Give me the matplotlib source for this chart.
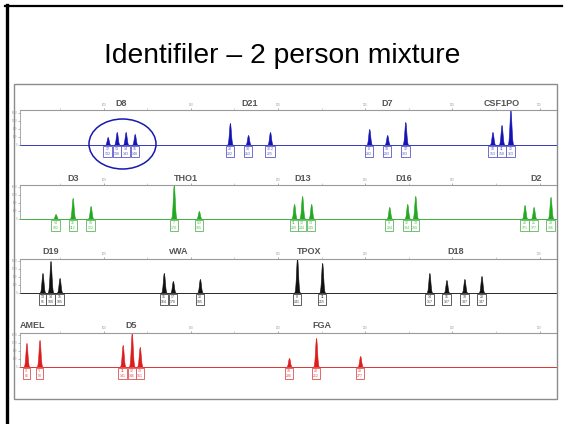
import numpy as np
import matplotlib
matplotlib.use("Agg")
import matplotlib.pyplot as plt
from matplotlib.patches import Ellipse, Rectangle
from matplotlib.lines import Line2D

plt.rcParams['font.family'] = ['Liberation Sans', 'DejaVu Sans']

W, H = 565, 424

# cada linha do eletroferograma: (marcador, alelos, posições em pb, alturas em RFU)
blue_markers = ["D8", "D21", "D7", "CSF1PO"]
blue_alleles = [["12", "13", "14", "15"], ["28", "30", "32.2"], ["8", "10", "12"], ["10", "11", "12"]]
blue_pos = [[102.3, 107.5, 112.6, 117.8], [172.4, 182.8, 195.4], [252.3, 262.6, 273.0], [323.0, 328.2, 333.3]]
blue_rfu = [[400, 650, 650, 550], [1100, 500, 650], [800, 500, 1150], [650, 1000, 1750]]

green_markers = ["D3", "THO1", "D13", "D16", "D2"]
green_alleles = [["14", "16", "18"], ["7", "9.3"], ["11", "12", "13"], ["9", "12", "13"], ["20", "21", "23"]]
green_pos = [[72.4, 82.2, 92.5], [140.2, 154.6], [209.2, 213.8, 219.0], [263.8, 274.1, 278.7], [341.4, 346.6, 356.3]]
green_rfu = [[250, 1050, 650], [1700, 400], [750, 1150, 750], [600, 750, 1150], [700, 600, 1100]]

black_markers = ["D19", "vWA", "TPOX", "D18"]
black_alleles = [["13", "14", "15"], ["16", "17", "20"], ["8", "11"], ["14", "16", "18", "20"]]
black_pos = [[64.9, 69.5, 74.7], [134.5, 139.7, 155.2], [210.9, 225.3], [286.8, 296.6, 306.9, 316.7]]
black_rfu = [[1000, 1600, 750], [1000, 600, 700], [1750, 1500], [1000, 650, 700, 850]]

red_markers = ["AMEL", "D5", "FGA"]
red_alleles = [["X", "Y"], ["11", "12", "13"], ["19", "23", "28"]]
red_pos = [[55.7, 63.2], [110.9, 116.1, 120.7], [206.3, 221.8, 247.1]]
red_rfu = [[1200, 1350], [1100, 1700, 1000], [450, 1450, 550]]

size_ticks = [100, 150, 200, 250, 300, 350]
rfu_ticks = [0, 400, 800, 1200, 1600]

rows = [
    (blue_markers, blue_alleles, blue_pos, blue_rfu, "#1414b4", "#5a5ac8", 110, 145),
    (green_markers, green_alleles, green_pos, green_rfu, "#22a822", "#5cb85c", 185, 219),
    (black_markers, black_alleles, black_pos, black_rfu, "#111111", "#444444", 259, 293),
    (red_markers, red_alleles, red_pos, red_rfu, "#dd1c1c", "#e05050", 333, 367),
]

fig = plt.figure(figsize=(W / 100, H / 100), dpi=100)
fig.patch.set_facecolor("white")

def fx(px):
    return px / W

def fy(py):
    return 1 - py / H

# moldura do slide
fig.add_artist(Line2D([fx(5), fx(562)], [fy(6), fy(6)], color="black", lw=1.6))
fig.add_artist(Line2D([fx(6.5), fx(6.5)], [fy(5), fy(424)], color="black", lw=2.4))

fig.text(0.5, fy(56), "Identifiler \u2013 2 person mixture", ha="center", va="center",
         fontsize=20.3, color="black")

# caixa cinza da imagem
fig.add_artist(Rectangle((fx(14), fy(399)), fx(557) - fx(14), fy(84) - fy(399),
                         transform=fig.transFigure, fill=False, ec="#8c8c8c", lw=1))

RFU_PX = 50
x0, x1 = 20, 557
grid = np.linspace(52, 360, 4000)

for markers, alleles, pos, rfu, col, boxcol, top, base in rows:
    bottom = base + 14
    ax = fig.add_axes([fx(x0), fy(bottom), fx(x1) - fx(x0), fy(top) - fy(bottom)])
    ymax = (base - top) * RFU_PX
    ax.set_xlim(52, 360)
    ax.set_ylim(-14 * RFU_PX, ymax)
    ax.patch.set_alpha(0)

    for s in ["right", "bottom"]:
        ax.spines[s].set_visible(False)
    ax.spines["top"].set_color("#9a9a9a")
    ax.spines["top"].set_linewidth(0.8)
    ax.spines["left"].set_color("#888888")
    ax.spines["left"].set_linewidth(0.5)
    ax.spines["left"].set_bounds(0, ymax)

    centers = [np.mean(p) for p in pos]
    # rótulos de tamanho escondidos onde ficam sob o nome do marcador
    tick_txt = []
    for t in size_ticks:
        hidden = any(abs(t - c) < len(n) * 2.2 + 3 for c, n in zip(centers, markers))
        tick_txt.append("" if hidden else str(t))

    ax.xaxis.tick_top()
    ax.set_xticks(size_ticks, tick_txt)
    ax.set_xticks([t + 25 for t in size_ticks[:-1]] + [75], minor=True)
    ax.tick_params(axis="x", which="major", length=1.5, width=0.5, color="#888888",
                   labelsize=2.0, labelcolor="#999999", pad=0.5)
    ax.tick_params(axis="x", which="minor", length=1.2, width=0.4, color="#aaaaaa")
    ax.set_yticks(rfu_ticks)
    ax.tick_params(axis="y", length=1.2, width=0.4, color="#888888",
                   labelsize=1.8, labelcolor="#999999", pad=0.5)

    ax.axhline(0, color=boxcol, lw=0.6, alpha=0.7)

    curve = np.zeros_like(grid)
    for p_list, h_list in zip(pos, rfu):
        for p, h in zip(p_list, h_list):
            curve += h * np.exp(-0.5 * ((grid - p) / 0.55) ** 2)
    ax.fill_between(grid, 0, curve, color=col, lw=0.4)

    for name, al, p_list, c in zip(markers, alleles, pos, centers):
        ax.text(c, ymax + 2.5 * RFU_PX, name, ha="center", va="bottom",
                fontsize=6.5, fontweight="bold", color="#555555", clip_on=False)
        for a, p in zip(al, p_list):
            ax.text(p, -2.5 * RFU_PX, f"{a}\n{p + 30:.0f}", ha="center", va="top",
                    fontsize=2.5, color=boxcol, linespacing=1.1,
                    bbox=dict(boxstyle="square,pad=0.35", fc="white", ec=boxcol, lw=0.6))

# destaque em volta do D8
fig.add_artist(Ellipse((fx(122.5), fy(144)), fx(67), 50 / H, transform=fig.transFigure,
                       fill=False, ec="#1818b0", lw=1.1))

fig.savefig("out.png", dpi=100, facecolor="white")
